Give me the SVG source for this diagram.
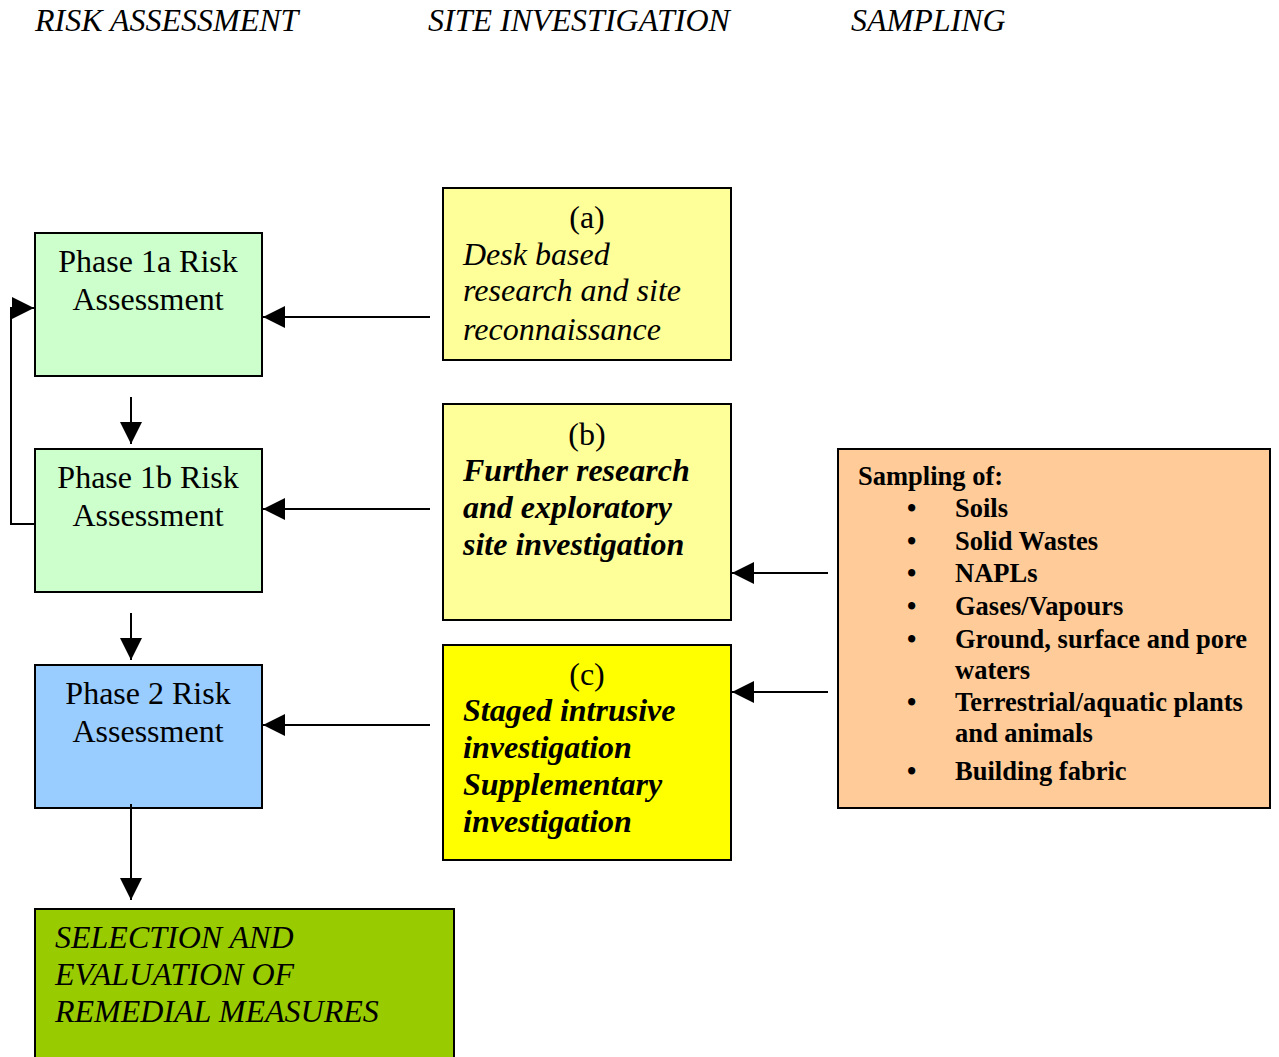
<svg xmlns="http://www.w3.org/2000/svg" width="1279" height="1057" viewBox="0 0 1279 1057">
<style>
text{font-family:"Liberation Serif","Times New Roman",serif;fill:#000}
.h{font-size:32px;font-style:italic}
.n{font-size:32px}
.c{text-anchor:middle}
.i{font-style:italic}
.bi{font-style:italic;font-weight:bold}
.s{font-size:26.5px;font-weight:bold}
rect{stroke:#000;stroke-width:2}
.ln{stroke:#000;stroke-width:2;fill:none}
</style>
<defs>
<marker id="ah" markerUnits="userSpaceOnUse" markerWidth="24" markerHeight="22" viewBox="0 0 24 22" refX="22" refY="11" orient="auto">
<path d="M0,0 L22,11 L0,22 Z" fill="#000"/>
</marker>
</defs>
<g id="headers">
<text class="h" x="35" y="31">RISK ASSESSMENT</text>
<text class="h" x="428" y="31">SITE INVESTIGATION</text>
<text class="h" x="851" y="31">SAMPLING</text>
</g>
<g id="phase1a">
<rect x="35" y="233" width="227" height="143" fill="#CCFFCC"/>
<text class="n c" x="148" y="272">Phase 1a Risk</text>
<text class="n c" x="148" y="310">Assessment</text>
</g>
<g id="phase1b">
<rect x="35" y="449" width="227" height="143" fill="#CCFFCC"/>
<text class="n c" x="148" y="488">Phase 1b Risk</text>
<text class="n c" x="148" y="526">Assessment</text>
</g>
<g id="phase2">
<rect x="35" y="665" width="227" height="143" fill="#99CCFF"/>
<text class="n c" x="148" y="704">Phase 2 Risk</text>
<text class="n c" x="148" y="742">Assessment</text>
</g>
<g id="selection">
<rect x="35" y="909" width="419" height="160" fill="#99CC00"/>
<text class="n i" x="55" y="948">SELECTION AND</text>
<text class="n i" x="55" y="985">EVALUATION OF</text>
<text class="n i" x="55" y="1022">REMEDIAL MEASURES</text>
</g>
<g id="siteA">
<rect x="443" y="188" width="288" height="172" fill="#FFFF99"/>
<text class="n c" x="587" y="228">(a)</text>
<text class="n i" x="463" y="265">Desk based</text>
<text class="n i" x="463" y="301">research and site</text>
<text class="n i" x="463" y="340">reconnaissance</text>
</g>
<g id="siteB">
<rect x="443" y="404" width="288" height="216" fill="#FFFF99"/>
<text class="n c" x="587" y="445">(b)</text>
<text class="n bi" x="463" y="481">Further research</text>
<text class="n bi" x="463" y="518">and exploratory</text>
<text class="n bi" x="463" y="555">site investigation</text>
</g>
<g id="siteC">
<rect x="443" y="645" width="288" height="215" fill="#FFFF00"/>
<text class="n c" x="587" y="685">(c)</text>
<text class="n bi" x="463" y="721">Staged intrusive</text>
<text class="n bi" x="463" y="758">investigation</text>
<text class="n bi" x="463" y="795">Supplementary</text>
<text class="n bi" x="463" y="832">investigation</text>
</g>
<g id="sampling">
<rect x="838" y="449" width="432" height="359" fill="#FFCC99"/>
<text class="s" x="858" y="485">Sampling of:</text>
<g class="s">
<text x="907" y="517">•</text><text x="955" y="517">Soils</text>
<text x="907" y="550">•</text><text x="955" y="550">Solid Wastes</text>
<text x="907" y="582">•</text><text x="955" y="582">NAPLs</text>
<text x="907" y="615">•</text><text x="955" y="615">Gases/Vapours</text>
<text x="907" y="648">•</text><text x="955" y="648">Ground, surface and pore</text>
<text x="955" y="679">waters</text>
<text x="907" y="711">•</text><text x="955" y="711">Terrestrial/aquatic plants</text>
<text x="955" y="742">and animals</text>
<text x="907" y="780">•</text><text x="955" y="780">Building fabric</text>
</g>
</g>
<g id="connectors">
<line class="ln" x1="430" y1="317" x2="263" y2="317" marker-end="url(#ah)"/>
<line class="ln" x1="430" y1="509" x2="263" y2="509" marker-end="url(#ah)"/>
<line class="ln" x1="430" y1="725" x2="263" y2="725" marker-end="url(#ah)"/>
<line class="ln" x1="828" y1="573" x2="732" y2="573" marker-end="url(#ah)"/>
<line class="ln" x1="828" y1="692" x2="732" y2="692" marker-end="url(#ah)"/>
<line class="ln" x1="131" y1="397" x2="131" y2="444" marker-end="url(#ah)"/>
<line class="ln" x1="131" y1="613" x2="131" y2="660" marker-end="url(#ah)"/>
<line class="ln" x1="131" y1="804" x2="131" y2="900" marker-end="url(#ah)"/>
<polyline class="ln" points="35,524 11,524 11,308 34,308" marker-end="url(#ah)"/>
</g>
</svg>
